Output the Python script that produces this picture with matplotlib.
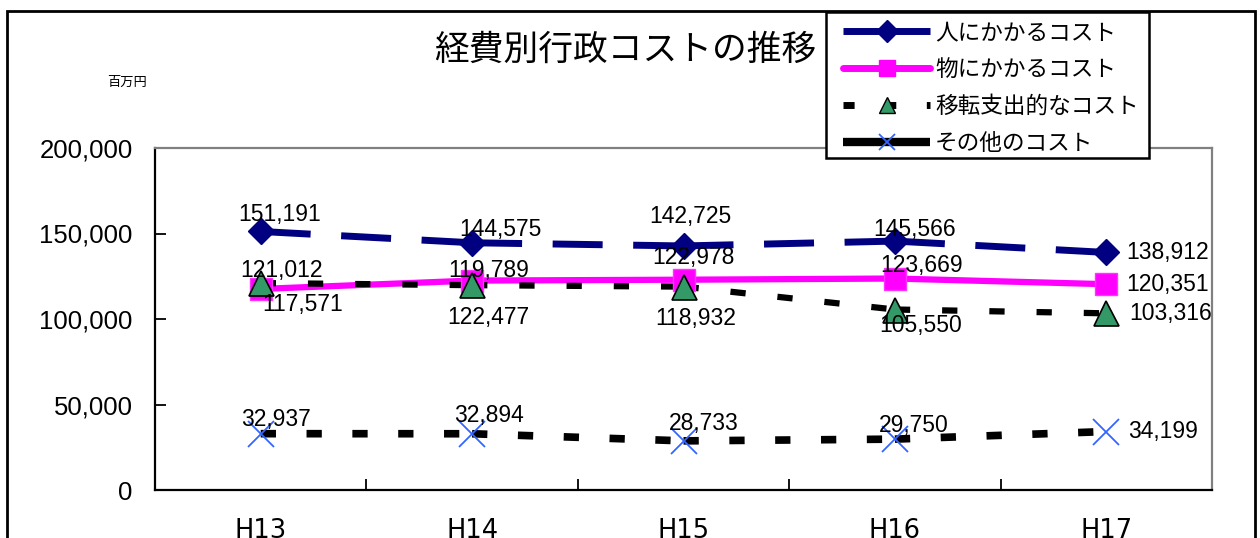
import matplotlib
matplotlib.use("Agg")
import matplotlib.pyplot as plt
from matplotlib.patches import Rectangle
from matplotlib.lines import Line2D

plt.rcParams['lines.scale_dashes'] = False

categories = ["H13", "H14", "H15", "H16", "H17"]
series_names = ["人にかかるコスト", "物にかかるコスト", "移転支出的なコスト", "その他のコスト"]
people = [151191, 144575, 142725, 145566, 138912]
goods = [117571, 122477, 122978, 123669, 120351]
transfer = [121012, 119789, 118932, 105550, 103316]
other = [32937, 32894, 28733, 29750, 34199]
yticks = [0, 50000, 100000, 150000, 200000]
title = "経費別行政コストの推移"
unit = "百万円"

JP = ['Noto Sans CJK JP', 'DejaVu Sans']
NUM = ['Liberation Sans', 'DejaVu Sans']

fig = plt.figure(figsize=(12.6, 5.38), dpi=100)
ax = fig.add_axes([155/1260, 1-490/538, 1057/1260, 342/538])
x = list(range(len(categories)))

def seg_plot(yv, **kw):
    for i in range(len(yv)-1):
        ax.plot(x[i:i+2], yv[i:i+2], solid_capstyle='butt', dash_capstyle='butt', **kw)

# lines
seg_plot(people, color='#000080', lw=5, linestyle=(0, (36, 22)), zorder=3)
ax.plot(x, goods, color='#FF00FF', lw=4.5, solid_capstyle='round', zorder=3)
seg_plot(transfer, color='black', lw=4.5, linestyle=(0, (11, 23)), zorder=3)
seg_plot(other, color='black', lw=5.5, linestyle=(0, (11, 22)), zorder=3)

# markers
ax.plot(x, people, linestyle='none', marker='D', ms=13, color='#000080', zorder=5)
ax.plot(x, goods, linestyle='none', marker='s', ms=16, color='#FF00FF', mec='#FF33FF', zorder=5)
ax.plot(x, transfer, linestyle='none', marker='^', ms=18, mfc='#339966', mec='black', mew=1.2, zorder=6)
ax.plot(x, other, linestyle='none', marker='x', ms=19, mec='#3366FF', mew=1.3, zorder=6)

# data labels (offsets in pixels)
people_off = [(19, 17, 'center'), (28, 13, 'center'), (7, 29, 'center'), (20, 12, 'center'), (20, 0, 'left')]
goods_off = [(42, -16, 'center'), (16, -37, 'center'), (10, 22, 'center'), (27, 13, 'center'), (20, 0, 'left')]
transfer_off = [(21, 13, 'center'), (17, 15, 'center'), (12, -32, 'center'), (26, -16, 'center'), (23, 0, 'left')]
other_off = [(15, 14, 'center'), (17, 18, 'center'), (20, 17, 'center'), (19, 14, 'center'), (22, 0, 'left')]

for vals, offs in [(people, people_off), (goods, goods_off), (transfer, transfer_off), (other, other_off)]:
    for xi, v, (dx, dy, ha) in zip(x, vals, offs):
        ax.annotate(f"{v:,}", (xi, v), xytext=(dx, dy), textcoords='offset pixels',
                    ha=ha, va='center', fontsize=16.5, family=NUM, zorder=8)

ax.set_xlim(-0.5, len(categories)-0.5)
ax.set_ylim(0, 200000)
ax.set_yticks(yticks)
ax.set_yticklabels([f"{t:,}" for t in yticks], family=NUM, fontsize=18.5)
ax.set_xticks(x)
ax.set_xticklabels(categories, fontsize=18.5, family=['DejaVu Sans'])
ax.set_xticks([i + 0.5 for i in x[:-1]], minor=True)
ax.tick_params(axis='x', which='major', length=0, pad=20)
ax.tick_params(axis='x', which='minor', direction='in', length=8, width=1.3)
ax.tick_params(axis='y', direction='in', length=8, width=1.3, pad=16)

for s in ['left', 'bottom']:
    ax.spines[s].set_color('black')
    ax.spines[s].set_linewidth(1.6)
for s in ['top', 'right']:
    ax.spines[s].set_color('#808080')
    ax.spines[s].set_linewidth(1.6)

# outer frame
fig.patches.append(Rectangle((7/1260, -0.1), (1255-7)/1260, 1.1 - 11/538, transform=fig.transFigure,
                             fill=False, edgecolor='black', lw=2, zorder=0))

fig.text(625/1260, 1-50/538, title, ha='center', va='center', fontsize=25, family=JP)
fig.text(127/1260, 1-82/538, unit, ha='center', va='center', fontsize=9.5, family=JP)

# legend box
fig.patches.append(Rectangle((826/1260, 1-158/538), (1149-826)/1260, (158-12)/538,
                             transform=fig.transFigure, facecolor='white', edgecolor='black',
                             lw=1.8, zorder=15))

handles = [
    Line2D([], [], color='#000080', lw=5, marker='D', ms=11, solid_capstyle='butt'),
    Line2D([], [], color='#FF00FF', lw=5, marker='s', ms=11, solid_capstyle='round'),
    Line2D([], [], color='black', lw=5, linestyle=(0, (8, 22)), marker='^', ms=12, mfc='#339966', mec='black'),
    Line2D([], [], color='black', lw=6, marker='x', ms=12, mec='#3366FF', mew=1.3, solid_capstyle='butt'),
]
leg = fig.legend(handles, series_names, loc='upper left', bbox_to_anchor=(843/1260, 1-21/538),
                 bbox_transform=fig.transFigure, borderaxespad=0, frameon=False,
                 prop={'family': JP, 'size': 16.3},
                 handlelength=3.85, handletextpad=0.22, labelspacing=0.62, borderpad=0)
leg.set_zorder(20)

fig.savefig("out.png", dpi=100)
